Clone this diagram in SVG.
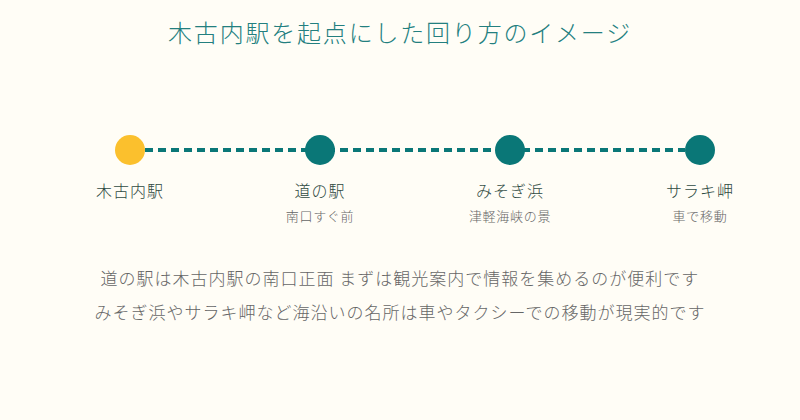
<svg xmlns="http://www.w3.org/2000/svg" width="800" height="420" viewBox="0 0 800 420">
<style>
text{font-family:"Noto Sans CJK JP","Noto Sans",sans-serif;font-weight:300;text-anchor:middle}
.title{font-size:24px;fill:#237f7f;letter-spacing:1.8px}
.lbl{font-size:16px;fill:#2f4a42;letter-spacing:1px}
.sub{font-size:13px;fill:#666;letter-spacing:0.7px}
.body{font-size:17px;fill:#666;letter-spacing:1px}
.dot{fill:#0a7777}
</style>
<rect width="800" height="420" fill="#fffdf6"/>
<text class="title" x="400" y="42">木古内駅を起点にした回り方のイメージ</text>
<g id="connectors">
<line x1="145" y1="150" x2="685" y2="150" stroke="#0a7777" stroke-width="4" stroke-dasharray="8 5"/>
</g>
<g id="kikonai"><circle cx="130" cy="150" r="15" fill="#fbc02d"/><text class="lbl" x="130" y="197">木古内駅</text></g>
<g id="michinoeki"><circle class="dot" cx="320" cy="150" r="15"/><text class="lbl" x="320" y="197">道の駅</text><text class="sub" x="320" y="221">南口すぐ前</text></g>
<g id="misogi"><circle class="dot" cx="510" cy="150" r="15"/><text class="lbl" x="510" y="197">みそぎ浜</text><text class="sub" x="510" y="221">津軽海峡の景</text></g>
<g id="saraki"><circle class="dot" cx="700" cy="150" r="15"/><text class="lbl" x="700" y="197">サラキ岬</text><text class="sub" x="700" y="221">車で移動</text></g>
<text class="body" x="400" y="285"> 道の駅は木古内駅の南口正面 まずは観光案内で情報を集めるのが便利です</text>
<text class="body" x="400" y="319">みそぎ浜やサラキ岬など海沿いの名所は車やタクシーでの移動が現実的です</text>
</svg>
